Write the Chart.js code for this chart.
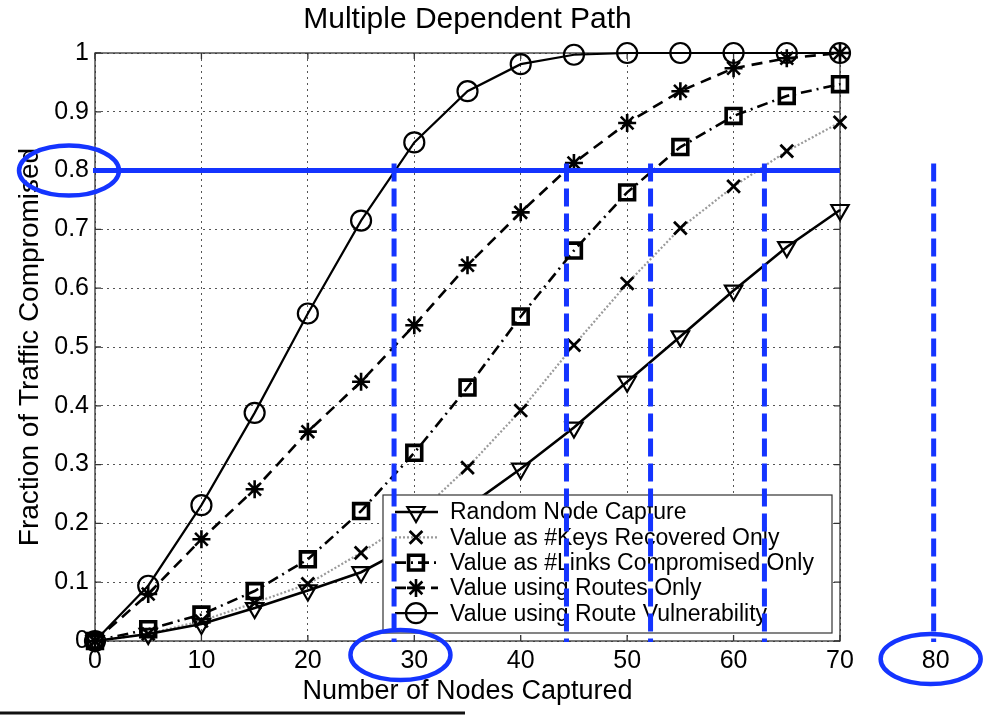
<!DOCTYPE html>
<html>
<head>
<meta charset="utf-8">
<title>Multiple Dependent Path</title>
<script src="https://cdn.jsdelivr.net/npm/chart.js@4.4.1/dist/chart.umd.min.js"></script>
<style>
  html, body { margin: 0; padding: 0; background: #fff; }
  #wrap { width: 989px; height: 715px; }
</style>
</head>
<body>
<div id="wrap"><canvas id="grafico" width="989" height="715"></canvas></div>
<script>
// ── datos ──
const nodesCaptured = [0, 5, 10, 15, 20, 25, 30, 35, 40, 45, 50, 55, 60, 65, 70];
const randomCapture = [0, 0.012, 0.029, 0.056, 0.086, 0.117, 0.165, 0.228, 0.293, 0.363, 0.441, 0.518, 0.596, 0.67, 0.733];
const keysRecovered = [0, 0.012, 0.034, 0.065, 0.097, 0.15, 0.21, 0.295, 0.392, 0.503, 0.608, 0.702, 0.773, 0.833, 0.882];
const linksCompromised = [0, 0.02, 0.045, 0.085, 0.139, 0.221, 0.32, 0.431, 0.552, 0.664, 0.763, 0.84, 0.893, 0.927, 0.947];
const routesOnly = [0, 0.08, 0.173, 0.258, 0.356, 0.441, 0.537, 0.639, 0.729, 0.813, 0.881, 0.935, 0.974, 0.991, 1.0];
const routeVulnerability = [0, 0.094, 0.231, 0.388, 0.557, 0.715, 0.848, 0.935, 0.981, 0.997, 1, 1, 1, 1, 1];

const seriesNames = [
    'Random Node Capture',
    'Value as #Keys Recovered Only',
    'Value as #Links Compromised Only',
    'Value using Routes Only',
    'Value using Route Vulnerability'
];
const xTickValues = [0, 10, 20, 30, 40, 50, 60, 70];
const yTickLabels = ['0', '0.1', '0.2', '0.3', '0.4', '0.5', '0.6', '0.7', '0.8', '0.9', '1'];

// anotaciones azules: nivel 0.8 y cortes en el eje x
const markLevel = 0.8;
const markCuts = [28.1, 44.3, 52.2, 62.9, 78.8];
const extraTickLabel = '80';

const BLUE = '#1434ff';
const FONT = "'Liberation Sans', Arial, Helvetica, sans-serif";
Chart.defaults.font.family = FONT;
Chart.defaults.color = '#000';

function toPoints(values) {
    return nodesCaptured.map((x, i) => ({ x: x, y: values[i] }));
}

const series = [
    { values: randomCapture, dash: [], color: '#000', width: 2.6,
      pointStyle: 'triangle', rotation: 180, radius: 10, pointWidth: 2.2 },
    { values: keysRecovered, dash: [2, 2], color: '#9a9a9a', width: 2.2,
      pointStyle: 'crossRot', rotation: 0, radius: 9, pointWidth: 2.8, pointColor: '#000' },
    { values: linksCompromised, dash: [11, 5, 2, 5], color: '#000', width: 2.6,
      pointStyle: 'rect', rotation: 0, radius: 10.5, pointWidth: 3.6 },
    { values: routesOnly, dash: [11, 7], color: '#000', width: 2.6,
      pointStyle: 'star', rotation: 0, radius: 9, pointWidth: 2.6 },
    { values: routeVulnerability, dash: [], color: '#000', width: 2.2,
      pointStyle: 'circle', rotation: 0, radius: 10, pointWidth: 2.2 }
];

// ── caja estilo MATLAB con marcas hacia dentro ──
const matlabAxes = {
    id: 'matlabAxes',
    beforeDatasetsDraw(chart) {
        const { ctx, chartArea: a, scales: { x, y } } = chart;
        ctx.save();
        ctx.strokeStyle = '#333';
        ctx.lineWidth = 1.3;
        ctx.setLineDash([]);
        ctx.strokeRect(a.left, a.top, a.right - a.left, a.bottom - a.top);
        const t = 6;
        ctx.beginPath();
        xTickValues.forEach(v => {
            const px = x.getPixelForValue(v);
            ctx.moveTo(px, a.bottom); ctx.lineTo(px, a.bottom - t);
            ctx.moveTo(px, a.top); ctx.lineTo(px, a.top + t);
        });
        yTickLabels.forEach(l => {
            const py = y.getPixelForValue(parseFloat(l));
            ctx.moveTo(a.left, py); ctx.lineTo(a.left + t, py);
            ctx.moveTo(a.right, py); ctx.lineTo(a.right - t, py);
        });
        ctx.stroke();
        ctx.restore();
    }
};

// ── leyenda dentro del área, línea + marcador ──
const matlabLegend = {
    id: 'matlabLegend',
    afterDatasetsDraw(chart) {
        const { ctx, chartArea: a } = chart;
        const right = a.right - 8, bottom = a.bottom - 8;
        const left = 383, top = 495;
        ctx.save();
        ctx.fillStyle = '#fff';
        ctx.fillRect(left, top, right - left, bottom - top);
        ctx.strokeStyle = '#333';
        ctx.lineWidth = 1.2;
        ctx.setLineDash([]);
        ctx.strokeRect(left, top, right - left, bottom - top);

        ctx.font = '23px ' + FONT;
        ctx.textBaseline = 'middle';
        ctx.textAlign = 'left';
        seriesNames.forEach((name, i) => {
            const s = series[i];
            const yy = top + 17 + i * 25.3;
            ctx.strokeStyle = s.color;
            ctx.lineWidth = s.width;
            ctx.setLineDash(s.dash);
            ctx.beginPath();
            ctx.moveTo(left + 12, yy);
            ctx.lineTo(left + 55, yy);
            ctx.stroke();
            ctx.setLineDash([]);
            ctx.strokeStyle = s.pointColor || s.color;
            ctx.fillStyle = 'rgba(0,0,0,0)';
            ctx.lineWidth = s.pointWidth;
            Chart.helpers.drawPoint(ctx, {
                pointStyle: s.pointStyle, rotation: s.rotation,
                radius: s.radius, borderWidth: s.pointWidth
            }, left + 33, yy);
            ctx.fillStyle = '#000';
            ctx.fillText(name, left + 67, yy + 1);
        });
        ctx.restore();
    }
};

// ── marcas azules añadidas a mano ──
const blueMarks = {
    id: 'blueMarks',
    afterDraw(chart) {
        const { ctx, chartArea: a, scales: { x, y } } = chart;
        const yLevel = y.getPixelForValue(markLevel);
        ctx.save();
        ctx.strokeStyle = BLUE;
        ctx.lineCap = 'butt';

        ctx.lineWidth = 5;
        ctx.setLineDash([]);
        ctx.beginPath();
        ctx.moveTo(a.left - 2, yLevel);
        ctx.lineTo(a.right, yLevel);
        ctx.stroke();

        ctx.setLineDash([18, 7]);
        markCuts.forEach(v => {
            const px = x.getPixelForValue(v);
            ctx.beginPath();
            ctx.moveTo(px, yLevel - 7);
            ctx.lineTo(px, a.bottom + 1);
            ctx.stroke();
        });

        ctx.setLineDash([]);
        ctx.lineWidth = 4.5;
        const ellipse = (cx, cy) => {
            ctx.beginPath();
            ctx.ellipse(cx, cy, 50, 25, 0, 0, Math.PI * 2);
            ctx.stroke();
        };
        ellipse(a.left - 26, yLevel);
        ellipse(x.getPixelForValue(28.7), a.bottom + 14);
        const px80 = x.getPixelForValue(markCuts[markCuts.length - 1]);
        ellipse(px80 - 3, a.bottom + 18);

        ctx.fillStyle = '#000';
        ctx.font = '25px ' + FONT;
        ctx.textAlign = 'center';
        ctx.textBaseline = 'middle';
        ctx.fillText(extraTickLabel, px80 + 2, a.bottom + 20);

        // línea negra del borde inferior
        ctx.strokeStyle = '#111';
        ctx.lineWidth = 3;
        ctx.beginPath();
        ctx.moveTo(0, 713);
        ctx.lineTo(465, 713);
        ctx.stroke();
        ctx.restore();
    }
};

const gridStyle = { color: '#555', lineWidth: 1, drawTicks: false };
const noBorder = { display: false, dash: [2, 4] };

new Chart(document.getElementById('grafico'), {
    type: 'line',
    data: {
        datasets: series.map((s, i) => ({
            label: seriesNames[i],
            data: toPoints(s.values),
            borderColor: s.color,
            borderWidth: s.width,
            borderDash: s.dash,
            tension: 0,
            fill: false,
            clip: false,
            pointStyle: s.pointStyle,
            rotation: s.rotation,
            pointRadius: s.radius,
            pointHoverRadius: s.radius,
            pointBorderWidth: s.pointWidth,
            pointBorderColor: s.pointColor || s.color,
            pointBackgroundColor: 'rgba(0,0,0,0)'
        }))
    },
    options: {
        responsive: false,
        animation: false,
        devicePixelRatio: 1,
        layout: { padding: { left: 0, right: 149, top: 0, bottom: 0 } },
        plugins: {
            legend: { display: false },
            tooltip: { enabled: false }
        },
        scales: {
            x: {
                type: 'linear',
                min: 0, max: 70,
                afterFit(scale) { scale.height = 74; },
                afterBuildTicks(scale) { scale.ticks = xTickValues.map(v => ({ value: v })); },
                border: noBorder,
                grid: gridStyle,
                ticks: { padding: 5, font: { size: 25 }, color: '#000', maxRotation: 0 },
                title: {
                    display: true, text: 'Number of Nodes Captured',
                    font: { size: 27 }, color: '#000', padding: { top: 0, bottom: 7 }
                }
            },
            // eje superior solo para centrar el título sobre el área del gráfico
            top: {
                type: 'linear',
                position: 'top',
                min: 0, max: 70,
                afterFit(scale) { scale.height = 53; },
                border: { display: false },
                grid: { display: false },
                ticks: { display: false },
                title: {
                    display: true, text: 'Multiple Dependent Path',
                    font: { size: 30 }, color: '#000', padding: { top: 2, bottom: 0 }
                }
            },
            y: {
                min: 0, max: 1,
                afterFit(scale) { scale.width = 95; },
                afterBuildTicks(scale) { scale.ticks = yTickLabels.map(l => ({ value: parseFloat(l) })); },
                border: noBorder,
                grid: gridStyle,
                ticks: {
                    padding: 6, font: { size: 25 }, color: '#000',
                    callback: (v, i) => yTickLabels[i]
                },
                title: {
                    display: true, text: 'Fraction of Traffic Compromised',
                    font: { size: 28 }, color: '#000', padding: { top: 13, bottom: 0 }
                }
            }
        }
    },
    plugins: [matlabAxes, matlabLegend, blueMarks]
});
</script>
</body>
</html>
